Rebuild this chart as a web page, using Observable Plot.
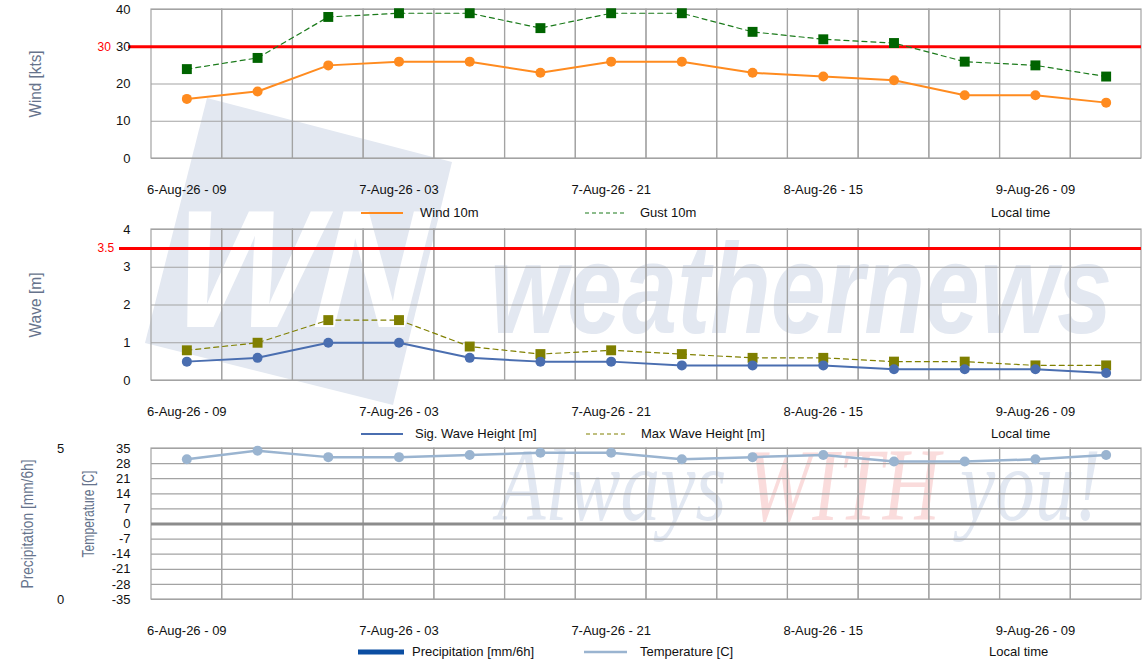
<!DOCTYPE html>
<html>
<head>
<meta charset="utf-8">
<script src="https://cdn.jsdelivr.net/npm/d3@7"></script>
<script src="https://cdn.jsdelivr.net/npm/@observablehq/plot@0.6"></script>
<style>
  html, body { margin: 0; padding: 0; background: #fff; }
  body { width: 1144px; height: 661px; position: relative; overflow: hidden; font-family: "Liberation Sans", Arial, sans-serif; }
  .panel { position: absolute; left: 0; z-index: 2; }
  #wm { position: absolute; left: 0; top: 0; z-index: 1; pointer-events: none; }
  .leg { position: absolute; z-index: 3; font-size: 13px; color: #111; white-space: nowrap; }
  .sw { position: absolute; z-index: 3; }
</style>
</head>
<body>
<!-- watermark (decoration, not data) -->
<svg id="wm" width="1144" height="661">
  <polygon points="207,98 452,162 393,405 145,343" fill="#e3e8f1"/>
  <text transform="translate(160,327) skewX(-14)" x="0" y="0" font-family="Liberation Sans, Arial" font-weight="bold" font-size="168" fill="#ffffff" textLength="255" lengthAdjust="spacingAndGlyphs">WN</text>
  <text x="490" y="333" font-family="Liberation Sans, Arial" font-weight="bold" font-style="italic" font-size="128" fill="#e3e8f1" textLength="622" lengthAdjust="spacingAndGlyphs">weathernews</text>
  <text x="497" y="520" font-family="Liberation Serif, Times New Roman, serif" font-style="italic" font-size="104" fill="#e2e8f2" textLength="604" lengthAdjust="spacingAndGlyphs">Always <tspan fill="#fadcdc">WITH</tspan> you!</text>
</svg>

<div id="p1" class="panel" style="top:0px"></div>
<div id="p2" class="panel" style="top:220px"></div>
<div id="p3" class="panel" style="top:439px"></div>

<!-- legends -->
<svg class="sw" style="left:361px; top:207px" width="44" height="12"><line x1="0" y1="6" x2="42" y2="6" stroke="#ff8b1f" stroke-width="2"/></svg>
<div class="leg" style="left:420px; top:205px">Wind 10m</div>
<svg class="sw" style="left:585px; top:207px" width="44" height="12"><line x1="0" y1="6" x2="40" y2="6" stroke="#1a7a1a" stroke-width="1.2" stroke-dasharray="4,3"/></svg>
<div class="leg" style="left:640px; top:205px">Gust 10m</div>
<div class="leg" style="left:991px; top:205px">Local time</div>

<svg class="sw" style="left:361px; top:428px" width="44" height="12"><line x1="0" y1="6" x2="42" y2="6" stroke="#4a6eb0" stroke-width="2"/></svg>
<div class="leg" style="left:415px; top:426px">Sig. Wave Height [m]</div>
<svg class="sw" style="left:586px; top:428px" width="44" height="12"><line x1="0" y1="6" x2="40" y2="6" stroke="#808000" stroke-width="1.2" stroke-dasharray="4,3"/></svg>
<div class="leg" style="left:641px; top:426px">Max Wave Height [m]</div>
<div class="leg" style="left:991px; top:426px">Local time</div>

<svg class="sw" style="left:358px; top:646px" width="48" height="12"><line x1="0" y1="6" x2="46" y2="6" stroke="#0b4ea2" stroke-width="5"/></svg>
<div class="leg" style="left:412px; top:644px">Precipitation [mm/6h]</div>
<svg class="sw" style="left:584px; top:646px" width="48" height="12"><line x1="0" y1="6" x2="43" y2="6" stroke="#9ab4d0" stroke-width="2.5"/></svg>
<div class="leg" style="left:640px; top:644px">Temperature [C]</div>
<div class="leg" style="left:989px; top:644px">Local time</div>

<script>
// ---- data ----
const times = ["6-Aug-26 - 09","6-Aug-26 - 15","6-Aug-26 - 21","7-Aug-26 - 03","7-Aug-26 - 09","7-Aug-26 - 15","7-Aug-26 - 21","8-Aug-26 - 03","8-Aug-26 - 09","8-Aug-26 - 15","8-Aug-26 - 21","9-Aug-26 - 03","9-Aug-26 - 09","9-Aug-26 - 15"];
const tickLabels = ["6-Aug-26 - 09","7-Aug-26 - 03","7-Aug-26 - 21","8-Aug-26 - 15","9-Aug-26 - 09"];
const wind10m = [16,18,25,26,26,23,26,26,23,22,21,17,17,15];
const gust10m = [24,27,38,39,39,35,39,39,34,32,31,26,25,22];
const sigWave = [0.5,0.6,1.0,1.0,0.6,0.5,0.5,0.4,0.4,0.4,0.3,0.3,0.3,0.2];
const maxWave = [0.8,1.0,1.6,1.6,0.9,0.7,0.8,0.7,0.6,0.6,0.5,0.5,0.4,0.4];
const precipitation = [0,0,0,0,0,0,0,0,0,0,0,0,0,0];
const temperature = [30,34,31,31,32,33,33,30,31,32,29,29,30,32];
const windTicks = [0,10,20,30,40];
const waveTicks = [0,1,2,3,4];
const tempTicks = [-35,-28,-21,-14,-7,0,7,14,21,28,35];
const precipTicks = [0,5];
const windLimit = 30;
const waveLimit = 3.5;

const rows = times.map((t, i) => ({
  t, wind: wind10m[i], gust: gust10m[i], sig: sigWave[i], max: maxWave[i],
  precip: precipitation[i], temp: temperature[i]
}));

const GRID = "#a3a3a3";
const common = {
  width: 1144, height: 222,
  marginLeft: 151, marginRight: 3, marginTop: 9,
  x: { type: "band", domain: times, padding: 0, round: false },
  style: { background: "transparent", fontFamily: "'Liberation Sans', Arial, sans-serif", fontSize: "13px", color: "#111", overflow: "visible" }
};
const titleStyle = { fill: "#66738c", fontSize: 17, fontFamily: "'Liberation Sans', Arial", rotate: -90, frameAnchor: "left", textAnchor: "middle" };
const xAxis = () => Plot.axisX({ ticks: tickLabels, tickSize: 0, tickPadding: 26, label: null });
const fmt = d => String(d);

// fit rotated axis titles to the reference lengths
function fitTitles(svg, lengths) {
  svg.querySelectorAll("text").forEach(t => {
    const L = lengths[t.textContent];
    if (L) { t.setAttribute("textLength", L); t.setAttribute("lengthAdjust", "spacingAndGlyphs"); }
  });
  return svg;
}

// Panel 1: wind
document.getElementById("p1").append(fitTitles(Plot.plot({
  ...common, marginBottom: 64,
  y: { domain: [0, 40] },
  marks: [
    Plot.cell(times, { x: d => d, fill: "none", stroke: GRID, strokeWidth: 1.2 }),
    Plot.ruleY(windTicks, { stroke: GRID, strokeWidth: 1.2 }),
    Plot.ruleY([windLimit], { stroke: "#ff0000", strokeWidth: 3, insetLeft: -23 }),
    Plot.text([windLimit], { y: d => d, text: fmt, frameAnchor: "left", dx: -54, fill: "#ff0000", fontSize: 12 }),
    Plot.line(rows, { x: "t", y: "gust", stroke: "#1a7a1a", strokeWidth: 1.2, strokeDasharray: "5,4" }),
    Plot.dot(rows, { x: "t", y: "gust", symbol: "square", fill: "#006400", r: 5.6 }),
    Plot.line(rows, { x: "t", y: "wind", stroke: "#ff8b1f", strokeWidth: 2 }),
    Plot.dot(rows, { x: "t", y: "wind", fill: "#ff8b1f", r: 5 }),
    Plot.axisY({ ticks: windTicks, tickSize: 0, tickPadding: 21, tickFormat: fmt, label: null }),
    xAxis(),
    Plot.text(["Wind [kts]"], { ...titleStyle, text: d => d, dx: -116 })
  ]
}), { "Wind [kts]": 67 }));

// Panel 2: wave
document.getElementById("p2").append(fitTitles(Plot.plot({
  ...common, marginBottom: 62,
  y: { domain: [0, 4] },
  marks: [
    Plot.cell(times, { x: d => d, fill: "none", stroke: GRID, strokeWidth: 1.2 }),
    Plot.ruleY(waveTicks, { stroke: GRID, strokeWidth: 1.2 }),
    Plot.ruleY([waveLimit], { stroke: "#ff0000", strokeWidth: 3, insetLeft: -32 }),
    Plot.text([waveLimit], { y: d => d, text: fmt, frameAnchor: "left", dx: -54, fill: "#ff0000", fontSize: 12 }),
    Plot.line(rows, { x: "t", y: "max", stroke: "#808000", strokeWidth: 1.2, strokeDasharray: "5,4" }),
    Plot.dot(rows, { x: "t", y: "max", symbol: "square", fill: "#7f7f00", r: 5.6 }),
    Plot.line(rows, { x: "t", y: "sig", stroke: "#4a6eb0", strokeWidth: 2 }),
    Plot.dot(rows, { x: "t", y: "sig", fill: "#4a6eb0", r: 5 }),
    Plot.axisY({ ticks: waveTicks, tickSize: 0, tickPadding: 21, tickFormat: fmt, label: null }),
    xAxis(),
    Plot.text(["Wave [m]"], { ...titleStyle, text: d => d, dx: -116 })
  ]
}), { "Wave [m]": 65 }));

// Panel 3: precipitation + temperature
const precipToTemp = p => -35 + p * (70 / 5);
document.getElementById("p3").append(fitTitles(Plot.plot({
  ...common, marginBottom: 62,
  y: { domain: [-35, 35] },
  marks: [
    Plot.cell(times, { x: d => d, fill: "none", stroke: GRID, strokeWidth: 1.2 }),
    Plot.ruleY(tempTicks, { stroke: GRID, strokeWidth: 1.2 }),
    Plot.ruleY([0], { stroke: "#8c8c8c", strokeWidth: 3 }),
    Plot.barY(rows, { x: "t", y1: -35, y2: d => precipToTemp(d.precip), fill: "#0b4ea2", stroke: "#5a82c0", strokeWidth: 1, insetLeft: 30, insetRight: 30 }),
    Plot.line(rows, { x: "t", y: "temp", stroke: "#9ab4d0", strokeWidth: 2.5 }),
    Plot.dot(rows, { x: "t", y: "temp", fill: "#9ab4d0", r: 5 }),
    Plot.axisY({ ticks: tempTicks, tickSize: 0, tickPadding: 21, tickFormat: fmt, label: null }),
    Plot.text(precipTicks, { y: d => precipToTemp(d), text: fmt, frameAnchor: "left", dx: -91, textAnchor: "middle" }),
    xAxis(),
    Plot.text(["Precipitation [mm/6h]"], { ...titleStyle, text: d => d, dx: -124 }),
    Plot.text(["Temperature [C]"], { ...titleStyle, text: d => d, dx: -63, dy: -10 })
  ]
}), { "Precipitation [mm/6h]": 129, "Temperature [C]": 87 }));
</script>
</body>
</html>
